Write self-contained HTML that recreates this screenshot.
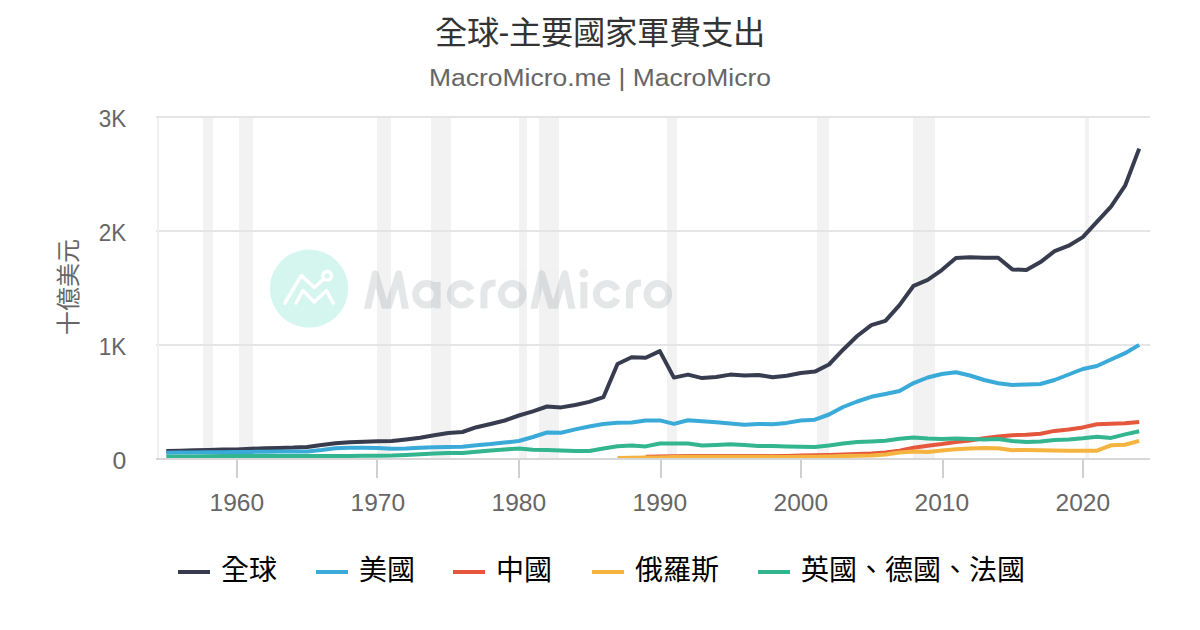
<!DOCTYPE html>
<html lang="zh-TW"><head><meta charset="utf-8"><style>
html,body{margin:0;padding:0;background:#fff;}
body{width:1200px;height:630px;position:relative;overflow:hidden;font-family:"Liberation Sans",sans-serif;}
</style></head><body>
<svg width="1200" height="630" viewBox="0 0 1200 630" style="position:absolute;left:0;top:0"><rect x="203" y="118" width="10" height="340" fill="#f2f2f2"/><rect x="239" y="118" width="14" height="340" fill="#f2f2f2"/><rect x="377" y="118" width="14" height="340" fill="#f2f2f2"/><rect x="431" y="118" width="20" height="340" fill="#f2f2f2"/><rect x="519" y="118" width="8" height="340" fill="#f2f2f2"/><rect x="539" y="118" width="20" height="340" fill="#f2f2f2"/><rect x="667" y="118" width="10" height="340" fill="#f2f2f2"/><rect x="817" y="118" width="12" height="340" fill="#f2f2f2"/><rect x="913" y="118" width="22" height="340" fill="#f2f2f2"/><rect x="1085" y="118" width="4" height="340" fill="#f2f2f2"/><circle cx="309" cy="288.6" r="39.2" fill="#d5f6ef"/><g fill="none" stroke="#fff" stroke-width="3.4" stroke-linecap="round" stroke-linejoin="round"><path d="M284.8,303 L301.4,275.5 L314.3,287.6 L323.8,279"/><path d="M296,303 L302.9,290.5 L314.3,302 L326.4,290.5 L333.2,303"/><circle cx="327.1" cy="275.8" r="4.3"/></g><defs><clipPath id="wc"><rect x="300" y="200" width="400" height="108.8"/></clipPath></defs><g opacity="0.21" clip-path="url(#wc)"><path d="M366.8,312 L375.3,273.8 L386.6,312 L398.8,273.8 L406,312 M426.5,294.3 m-10.8,0 a10.8,10.8 0 1 0 21.6,0 a10.8,10.8 0 1 0 -21.6,0 M437.2,282 L437.2,308.5 M471.1,289.9 A10.8,10.8 0 1 0 471.1,298.7 M483.9,308.5 L483.9,292 Q484.5,283 495.5,283 M512.2,294.3 m-10.8,0 a10.8,10.8 0 1 0 21.6,0 a10.8,10.8 0 1 0 -21.6,0 M533.2,312 L541.8,273.8 L553,312 L564.8,273.8 L572.6,312 M583.85,282 L583.85,308.5 M617.1,289.9 A10.8,10.8 0 1 0 617.1,298.7 M629.45,308.5 L629.45,292 Q630,283 641,283 M657.9,294.3 m-10.8,0 a10.8,10.8 0 1 0 21.6,0 a10.8,10.8 0 1 0 -21.6,0" fill="none" stroke="#84898f" stroke-width="7" stroke-linejoin="round"/><circle cx="583.8" cy="273.4" r="4.3" fill="#84898f"/></g><rect x="156" y="116" width="994" height="2" fill="#e4e5e6"/><rect x="156" y="230" width="994" height="2" fill="#e4e5e6"/><rect x="156" y="344" width="994" height="2" fill="#e4e5e6"/><rect x="157" y="118" width="2" height="340" fill="#efefef"/><defs><clipPath id="pc"><rect x="159" y="100" width="1000" height="358"/></clipPath></defs><g clip-path="url(#pc)"><path d="M166.3,451.0 L180.4,450.7 L194.5,450.2 L208.6,449.9 L222.7,449.6 L236.8,449.4 L250.9,448.8 L265.0,448.3 L279.1,447.9 L293.2,447.6 L307.3,446.9 L321.4,445.0 L335.5,443.3 L349.6,442.3 L363.7,441.8 L377.8,441.2 L391.9,441.0 L406.0,439.5 L420.1,437.8 L434.2,435.3 L448.3,433.0 L462.4,432.0 L476.5,427.2 L490.6,424.0 L504.7,420.5 L518.8,415.5 L532.9,411.3 L547.0,406.5 L561.1,407.4 L575.2,405.0 L589.3,401.9 L603.4,397.2 L617.5,364.0 L631.6,357.2 L645.7,357.8 L659.8,351.1 L673.9,377.6 L688.0,374.6 L702.1,378.1 L716.2,377.0 L730.3,374.6 L744.4,375.4 L758.5,375.0 L772.6,377.3 L786.7,375.7 L800.8,373.0 L814.9,371.6 L829.0,364.5 L843.1,349.7 L857.2,336.0 L871.3,325.2 L885.4,320.9 L899.5,305.1 L913.6,285.8 L927.7,279.9 L941.8,270.1 L955.9,258.1 L970.0,257.3 L984.1,257.8 L998.2,257.8 L1012.3,269.4 L1026.4,270.1 L1040.5,262.1 L1054.6,251.1 L1068.7,245.7 L1082.8,237.1 L1096.9,221.9 L1111.0,206.7 L1125.1,185.7 L1139.2,148.6" fill="none" stroke="#383c4f" stroke-width="4" stroke-linejoin="round" stroke-linecap="butt"/><path d="M166.3,452.7 L180.4,452.5 L194.5,452.4 L208.6,452.3 L222.7,452.2 L236.8,452.0 L250.9,451.9 L265.0,451.7 L279.1,451.6 L293.2,451.5 L307.3,451.4 L321.4,450.0 L335.5,448.2 L349.6,447.8 L363.7,447.8 L377.8,448.0 L391.9,448.8 L406.0,448.5 L420.1,447.8 L434.2,447.2 L448.3,447.0 L462.4,446.8 L476.5,445.2 L490.6,444.1 L504.7,442.5 L518.8,441.0 L532.9,437.0 L547.0,432.5 L561.1,432.8 L575.2,429.4 L589.3,426.5 L603.4,424.0 L617.5,422.8 L631.6,422.5 L645.7,420.5 L659.8,420.4 L673.9,423.9 L688.0,420.3 L702.1,421.2 L716.2,422.3 L730.3,423.6 L744.4,424.7 L758.5,424.0 L772.6,424.3 L786.7,422.9 L800.8,420.5 L814.9,419.7 L829.0,414.5 L843.1,407.0 L857.2,401.5 L871.3,396.8 L885.4,394.0 L899.5,391.0 L913.6,383.1 L927.7,377.5 L941.8,374.0 L955.9,372.2 L970.0,375.5 L984.1,380.0 L998.2,383.2 L1012.3,384.9 L1026.4,384.5 L1040.5,384.0 L1054.6,380.0 L1068.7,374.5 L1082.8,369.0 L1096.9,366.0 L1111.0,359.5 L1125.1,353.2 L1139.2,344.9" fill="none" stroke="#3aaad9" stroke-width="4" stroke-linejoin="round" stroke-linecap="butt"/><path d="M645.7,456.7 L659.8,456.5 L673.9,456.3 L688.0,456.1 L702.1,456.1 L716.2,456.1 L730.3,456.1 L744.4,456.0 L758.5,456.0 L772.6,456.0 L786.7,455.9 L800.8,455.6 L814.9,455.2 L829.0,454.9 L843.1,454.4 L857.2,454.0 L871.3,453.5 L885.4,452.4 L899.5,450.7 L913.6,447.8 L927.7,445.8 L941.8,444.1 L955.9,442.0 L970.0,440.5 L984.1,438.2 L998.2,436.5 L1012.3,435.2 L1026.4,434.8 L1040.5,433.7 L1054.6,430.9 L1068.7,429.6 L1082.8,427.4 L1096.9,424.3 L1111.0,423.7 L1125.1,423.3 L1139.2,421.9" fill="none" stroke="#e5573d" stroke-width="4" stroke-linejoin="round" stroke-linecap="butt"/><path d="M617.5,457.9 L631.6,457.7 L645.7,457.6 L659.8,457.4 L673.9,457.1 L688.0,456.8 L702.1,456.7 L716.2,456.7 L730.3,456.7 L744.4,456.7 L758.5,456.7 L772.6,456.8 L786.7,456.9 L800.8,456.8 L814.9,456.7 L829.0,456.5 L843.1,456.1 L857.2,455.8 L871.3,455.5 L885.4,454.4 L899.5,452.5 L913.6,451.5 L927.7,452.0 L941.8,450.6 L955.9,449.2 L970.0,448.5 L984.1,448.0 L998.2,448.2 L1012.3,450.2 L1026.4,449.9 L1040.5,450.3 L1054.6,450.6 L1068.7,450.7 L1082.8,450.7 L1096.9,450.7 L1111.0,445.3 L1125.1,444.7 L1139.2,440.9" fill="none" stroke="#f4b43f" stroke-width="4" stroke-linejoin="round" stroke-linecap="butt"/><path d="M166.3,456.8 L180.4,456.6 L194.5,456.4 L208.6,456.3 L222.7,456.1 L236.8,456.1 L250.9,456.0 L265.0,456.0 L279.1,456.0 L293.2,456.0 L307.3,456.0 L321.4,455.9 L335.5,455.9 L349.6,455.9 L363.7,455.8 L377.8,455.8 L391.9,455.6 L406.0,455.0 L420.1,454.2 L434.2,453.5 L448.3,453.0 L462.4,453.1 L476.5,451.8 L490.6,450.6 L504.7,449.5 L518.8,448.5 L532.9,449.8 L547.0,449.9 L561.1,450.4 L575.2,451.0 L589.3,451.0 L603.4,448.5 L617.5,446.2 L631.6,445.5 L645.7,446.4 L659.8,443.5 L673.9,443.5 L688.0,443.5 L702.1,445.5 L716.2,444.9 L730.3,444.2 L744.4,444.9 L758.5,446.0 L772.6,446.0 L786.7,446.4 L800.8,446.8 L814.9,447.0 L829.0,445.5 L843.1,443.6 L857.2,442.1 L871.3,441.5 L885.4,440.7 L899.5,438.7 L913.6,437.5 L927.7,438.5 L941.8,439.1 L955.9,438.5 L970.0,439.1 L984.1,439.5 L998.2,439.0 L1012.3,441.1 L1026.4,442.1 L1040.5,441.4 L1054.6,439.9 L1068.7,439.4 L1082.8,438.3 L1096.9,436.8 L1111.0,437.9 L1125.1,434.4 L1139.2,431.3" fill="none" stroke="#33b58f" stroke-width="4" stroke-linejoin="round" stroke-linecap="butt"/></g><rect x="156" y="458" width="994" height="2" fill="#d8d6d7"/><rect x="236" y="460" width="2" height="18" fill="#d0d0d0"/><rect x="376" y="460" width="2" height="18" fill="#d0d0d0"/><rect x="518" y="460" width="2" height="18" fill="#d0d0d0"/><rect x="660" y="460" width="2" height="18" fill="#d0d0d0"/><rect x="800" y="460" width="2" height="18" fill="#d0d0d0"/><rect x="942" y="460" width="2" height="18" fill="#d0d0d0"/><rect x="1082" y="460" width="2" height="18" fill="#d0d0d0"/><text x="126.3" y="469.0" font-family="Liberation Sans, sans-serif" font-size="23.5" fill="#666" text-anchor="end" textLength="13.8" lengthAdjust="spacingAndGlyphs">0</text><text x="126.3" y="354.9" font-family="Liberation Sans, sans-serif" font-size="23.5" fill="#666" text-anchor="end" textLength="27.5" lengthAdjust="spacingAndGlyphs">1K</text><text x="126.3" y="240.8" font-family="Liberation Sans, sans-serif" font-size="23.5" fill="#666" text-anchor="end" textLength="27.5" lengthAdjust="spacingAndGlyphs">2K</text><text x="126.3" y="126.7" font-family="Liberation Sans, sans-serif" font-size="23.5" fill="#666" text-anchor="end" textLength="27.5" lengthAdjust="spacingAndGlyphs">3K</text><text x="236.8" y="510.6" font-family="Liberation Sans, sans-serif" font-size="23.3" fill="#666" text-anchor="middle" textLength="54.5" lengthAdjust="spacingAndGlyphs">1960</text><text x="377.8" y="510.6" font-family="Liberation Sans, sans-serif" font-size="23.3" fill="#666" text-anchor="middle" textLength="54.5" lengthAdjust="spacingAndGlyphs">1970</text><text x="518.8" y="510.6" font-family="Liberation Sans, sans-serif" font-size="23.3" fill="#666" text-anchor="middle" textLength="54.5" lengthAdjust="spacingAndGlyphs">1980</text><text x="659.8" y="510.6" font-family="Liberation Sans, sans-serif" font-size="23.3" fill="#666" text-anchor="middle" textLength="54.5" lengthAdjust="spacingAndGlyphs">1990</text><text x="800.8" y="510.6" font-family="Liberation Sans, sans-serif" font-size="23.3" fill="#666" text-anchor="middle" textLength="54.5" lengthAdjust="spacingAndGlyphs">2000</text><text x="941.8" y="510.6" font-family="Liberation Sans, sans-serif" font-size="23.3" fill="#666" text-anchor="middle" textLength="54.5" lengthAdjust="spacingAndGlyphs">2010</text><text x="1082.8" y="510.6" font-family="Liberation Sans, sans-serif" font-size="23.3" fill="#666" text-anchor="middle" textLength="54.5" lengthAdjust="spacingAndGlyphs">2020</text><text x="0" y="0" transform="translate(77,287) rotate(-90)" font-family="Liberation Sans, sans-serif" font-size="24" fill="#666" text-anchor="middle">十億美元</text><text x="600" y="44" font-family="Liberation Sans, sans-serif" font-size="32.3" fill="#333" text-anchor="middle">全球-主要國家軍費支出</text><text x="600" y="86" font-family="Liberation Sans, sans-serif" font-size="23" fill="#666" text-anchor="middle" textLength="342" lengthAdjust="spacingAndGlyphs">MacroMicro.me | MacroMicro</text><rect x="178" y="570" width="32" height="4" fill="#383c4f"/><text x="221" y="579.8" font-family="Liberation Sans, sans-serif" font-size="28" fill="#000">全球</text><rect x="316" y="570" width="32" height="4" fill="#3aaad9"/><text x="359" y="579.8" font-family="Liberation Sans, sans-serif" font-size="28" fill="#000">美國</text><rect x="453" y="570" width="32" height="4" fill="#e5573d"/><text x="496" y="579.8" font-family="Liberation Sans, sans-serif" font-size="28" fill="#000">中國</text><rect x="592" y="570" width="32" height="4" fill="#f4b43f"/><text x="635" y="579.8" font-family="Liberation Sans, sans-serif" font-size="28" fill="#000">俄羅斯</text><rect x="758" y="570" width="32" height="4" fill="#33b58f"/><text x="801" y="579.8" font-family="Liberation Sans, sans-serif" font-size="28" fill="#000">英國、德國、法國</text></svg>
</body></html>
